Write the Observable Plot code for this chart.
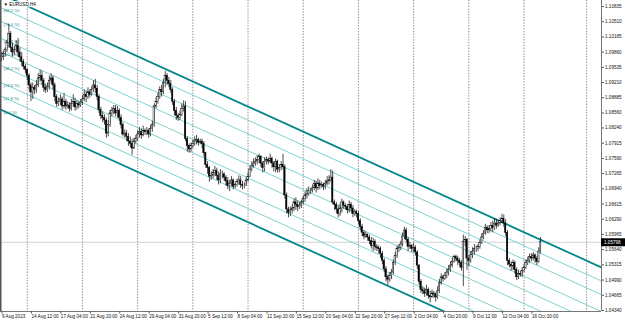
<!DOCTYPE html>
<html><head><meta charset="utf-8">
<script src="https://cdn.jsdelivr.net/npm/d3@7"></script>
<script src="https://cdn.jsdelivr.net/npm/@observablehq/plot@0.6"></script>
<style>html,body{margin:0;padding:0;background:#fff}svg{display:block}</style>
</head><body><div id="chart"></div>
<script>
// ---------- data (EURUSD H4, 9 Aug 2023 20:00 .. 17 Oct 2023 16:00), bar index 0..293 ----------
const symbol = "EURUSD,H4";
const firstOpen = 1.0972;
const closes = [
1.0975,
1.0982,1.0990,1.1005,1.1025,1.0995,1.0985,
1.0990,1.1000,1.0985,1.0975,1.0965,1.0955,
1.0948,1.0935,1.0915,1.0900,1.0910,1.0905,
1.0915,1.0930,1.0935,1.0925,1.0910,1.0905,
1.0912,1.0925,1.0930,1.0915,1.0890,1.0875,
1.0880,1.0885,1.0870,1.0880,1.0870,1.0872,
1.0865,1.0875,1.0880,1.0868,1.0875,1.0872,
1.0878,1.0885,1.0895,1.0890,1.0900,1.0895,
1.0905,1.0915,1.0908,1.0890,1.0862,1.0850,
1.0845,1.0840,1.0812,1.0830,1.0855,1.0860,
1.0865,1.0855,1.0860,1.0845,1.0830,1.0810,
1.0812,1.0805,1.0795,1.0790,1.0780,1.0795,
1.0800,1.0810,1.0815,1.0808,1.0818,1.0815,
1.0818,1.0810,1.0822,1.0830,1.0870,1.0880,
1.0890,1.0905,1.0900,1.0920,1.0935,1.0925,
1.0918,1.0905,1.0880,1.0860,1.0850,1.0845,
1.0852,1.0865,1.0870,1.0800,1.0785,1.0778,
1.0785,1.0790,1.0795,1.0798,1.0792,1.0795,
1.0790,1.0770,1.0745,1.0738,1.0720,1.0722,
1.0728,1.0732,1.0722,1.0712,1.0725,1.0725,
1.0718,1.0710,1.0700,1.0705,1.0712,1.0698,
1.0702,1.0708,1.0712,1.0702,1.0700,1.0700,
1.0712,1.0720,1.0735,1.0742,1.0748,1.0752,
1.0755,1.0762,1.0748,1.0738,1.0752,1.0755,
1.0752,1.0758,1.0748,1.0740,1.0752,1.0735,
1.0738,1.0745,1.0740,1.0680,1.0650,1.0642,
1.0648,1.0652,1.0665,1.0660,1.0655,1.0658,
1.0665,1.0672,1.0680,1.0682,1.0690,1.0690,
1.0695,1.0705,1.0695,1.0705,1.0700,1.0702,
1.0698,1.0705,1.0710,1.0712,1.0718,1.0665,
1.0660,1.0650,1.0640,1.0652,1.0665,1.0658,
1.0655,1.0648,1.0660,1.0652,1.0640,1.0645,
1.0640,1.0625,1.0612,1.0600,1.0592,1.0595,
1.0590,1.0582,1.0572,1.0580,1.0570,1.0568,
1.0565,1.0555,1.0540,1.0522,1.0505,1.0500,
1.0508,1.0515,1.0535,1.0550,1.0565,1.0568,
1.0575,1.0592,1.0605,1.0585,1.0570,1.0572,
1.0565,1.0568,1.0558,1.0530,1.0495,1.0478,
1.0475,1.0470,1.0478,1.0465,1.0462,1.0470,
1.0468,1.0462,1.0475,1.0492,1.0505,1.0502,
1.0508,1.0515,1.0520,1.0530,1.0538,1.0548,
1.0545,1.0540,1.0535,1.0525,1.0580,1.0585,
1.0545,1.0540,1.0552,1.0560,1.0565,1.0565,
1.0570,1.0578,1.0590,1.0598,1.0610,1.0605,
1.0608,1.0615,1.0610,1.0620,1.0615,1.0620,
1.0625,1.0630,1.0620,1.0600,1.0540,1.0532,
1.0528,1.0535,1.0520,1.0505,1.0512,1.0510,
1.0518,1.0525,1.0535,1.0540,1.0548,1.0545,
1.0552,1.0545,1.0538,1.0560,1.05798
];
const highs = [
1.0985,
1.0988,1.0995,1.1012,1.1045,1.1030,1.1005,
1.0998,1.1010,1.1015,1.0995,1.0985,1.0970,
1.0960,1.0950,1.0940,1.0920,1.0920,1.0915,
1.0925,1.0940,1.0948,1.0945,1.0930,1.0918,
1.0920,1.0935,1.0940,1.0935,1.0920,1.0895,
1.0888,1.0895,1.0890,1.0898,1.0885,1.0880,
1.0878,1.0885,1.0895,1.0888,1.0882,1.0880,
1.0885,1.0892,1.0905,1.0902,1.0910,1.0905,
1.0912,1.0925,1.0928,1.0915,1.0895,1.0868,
1.0858,1.0852,1.0845,1.0840,1.0862,1.0868,
1.0872,1.0872,1.0870,1.0865,1.0852,1.0835,
1.0820,1.0818,1.0812,1.0805,1.0800,1.0802,
1.0808,1.0818,1.0825,1.0822,1.0828,1.0822,
1.0825,1.0822,1.0830,1.0838,1.0875,1.0888,
1.0898,1.0912,1.0915,1.0928,1.0945,1.0940,
1.0932,1.0925,1.0910,1.0885,1.0868,1.0855,
1.0860,1.0875,1.0882,1.0880,1.0805,1.0790,
1.0792,1.0798,1.0805,1.0808,1.0802,1.0800,
1.0800,1.0795,1.0772,1.0752,1.0742,1.0730,
1.0735,1.0742,1.0738,1.0730,1.0735,1.0732,
1.0728,1.0722,1.0718,1.0712,1.0720,1.0715,
1.0708,1.0715,1.0722,1.0720,1.0710,1.0706,
1.0718,1.0728,1.0742,1.0752,1.0758,1.0760,
1.0765,1.0768,1.0765,1.0752,1.0760,1.0762,
1.0760,1.0768,1.0762,1.0752,1.0758,1.0755,
1.0745,1.0752,1.0768,1.0745,1.0685,1.0655,
1.0655,1.0660,1.0672,1.0675,1.0668,1.0665,
1.0670,1.0678,1.0688,1.0695,1.0698,1.0695,
1.0702,1.0712,1.0710,1.0715,1.0712,1.0708,
1.0706,1.0712,1.0720,1.0722,1.0735,1.0732,
1.0670,1.0665,1.0658,1.0662,1.0672,1.0668,
1.0662,1.0660,1.0668,1.0665,1.0658,1.0650,
1.0648,1.0645,1.0630,1.0618,1.0605,1.0602,
1.0598,1.0595,1.0590,1.0588,1.0585,1.0575,
1.0572,1.0570,1.0560,1.0545,1.0528,1.0510,
1.0515,1.0522,1.0542,1.0558,1.0572,1.0575,
1.0582,1.0600,1.0612,1.0610,1.0590,1.0580,
1.0575,1.0578,1.0572,1.0562,1.0532,1.0500,
1.0485,1.0482,1.0488,1.0482,1.0475,1.0478,
1.0475,1.0472,1.0485,1.0500,1.0512,1.0510,
1.0515,1.0522,1.0530,1.0538,1.0545,1.0552,
1.0552,1.0550,1.0545,1.0540,1.0595,1.0592,
1.0588,1.0552,1.0560,1.0568,1.0575,1.0572,
1.0575,1.0585,1.0598,1.0605,1.0618,1.0615,
1.0615,1.0622,1.0625,1.0630,1.0628,1.0626,
1.0632,1.0640,1.0638,1.0628,1.0605,1.0545,
1.0538,1.0542,1.0540,1.0525,1.0520,1.0518,
1.0525,1.0532,1.0542,1.0548,1.0555,1.0555,
1.0558,1.0555,1.0550,1.0568,1.0590
];
const lows = [
1.0965,
1.0968,1.0975,1.0985,1.0995,1.0985,1.0975,
1.0978,1.0985,1.0975,1.0965,1.0955,1.0948,
1.0940,1.0925,1.0905,1.0880,1.0885,1.0895,
1.0898,1.0910,1.0922,1.0915,1.0900,1.0898,
1.0900,1.0905,1.0918,1.0905,1.0880,1.0868,
1.0870,1.0872,1.0862,1.0865,1.0862,1.0865,
1.0858,1.0860,1.0868,1.0860,1.0862,1.0865,
1.0868,1.0872,1.0880,1.0878,1.0885,1.0888,
1.0892,1.0900,1.0898,1.0882,1.0855,1.0842,
1.0835,1.0830,1.0802,1.0805,1.0825,1.0848,
1.0852,1.0848,1.0845,1.0838,1.0822,1.0805,
1.0802,1.0795,1.0785,1.0782,1.0766,1.0778,
1.0790,1.0795,1.0802,1.0800,1.0805,1.0808,
1.0808,1.0802,1.0805,1.0815,1.0825,1.0865,
1.0875,1.0885,1.0890,1.0895,1.0910,1.0915,
1.0910,1.0898,1.0872,1.0850,1.0840,1.0838,
1.0840,1.0848,1.0858,1.0795,1.0772,1.0770,
1.0772,1.0780,1.0785,1.0788,1.0785,1.0788,
1.0780,1.0762,1.0738,1.0725,1.0708,1.0712,
1.0715,1.0720,1.0712,1.0702,1.0705,1.0715,
1.0710,1.0700,1.0692,1.0688,1.0698,1.0692,
1.0694,1.0698,1.0702,1.0695,1.0692,1.0694,
1.0700,1.0708,1.0718,1.0730,1.0738,1.0742,
1.0745,1.0748,1.0740,1.0728,1.0730,1.0745,
1.0745,1.0748,1.0738,1.0730,1.0728,1.0728,
1.0728,1.0732,1.0735,1.0672,1.0640,1.0632,
1.0635,1.0640,1.0645,1.0648,1.0645,1.0650,
1.0652,1.0660,1.0665,1.0672,1.0678,1.0682,
1.0685,1.0690,1.0685,1.0690,1.0692,1.0695,
1.0690,1.0692,1.0700,1.0702,1.0708,1.0660,
1.0648,1.0640,1.0632,1.0635,1.0642,1.0650,
1.0648,1.0640,1.0642,1.0645,1.0632,1.0635,
1.0632,1.0618,1.0605,1.0592,1.0585,1.0588,
1.0582,1.0575,1.0565,1.0560,1.0562,1.0560,
1.0555,1.0545,1.0532,1.0515,1.0495,1.0488,
1.0495,1.0500,1.0510,1.0530,1.0545,1.0558,
1.0562,1.0570,1.0585,1.0578,1.0560,1.0565,
1.0558,1.0558,1.0550,1.0522,1.0488,1.0470,
1.0468,1.0462,1.0465,1.0458,1.0450,1.0460,
1.0460,1.0452,1.0458,1.0470,1.0488,1.0495,
1.0498,1.0502,1.0508,1.0515,1.0525,1.0535,
1.0538,1.0530,1.0525,1.0518,1.0485,1.0570,
1.0520,1.0528,1.0535,1.0545,1.0552,1.0558,
1.0560,1.0565,1.0575,1.0585,1.0595,1.0598,
1.0598,1.0602,1.0600,1.0605,1.0608,1.0612,
1.0615,1.0620,1.0612,1.0592,1.0530,1.0525,
1.0518,1.0520,1.0512,1.0498,1.0500,1.0505,
1.0505,1.0515,1.0522,1.0530,1.0535,1.0538,
1.0540,1.0535,1.0530,1.0535,1.0555
];
const dateLabels = ["9 Aug 2023","14 Aug 12:00","17 Aug 04:00","21 Aug 20:00","24 Aug 12:00","29 Aug 04:00","31 Aug 20:00","5 Sep 12:00","8 Sep 04:00","12 Sep 20:00","15 Sep 12:00","20 Sep 04:00","22 Sep 20:00","27 Sep 12:00","2 Oct 04:00","4 Oct 20:00","9 Oct 12:00","12 Oct 04:00","16 Oct 20:00"];
const dateLabelBars = [0,16,32,48,64,80,96,112,128,144,160,176,192,208,224,240,256,272,288];
const priceLabels = [1.10835,1.10510,1.10185,1.09860,1.09535,1.09210,1.08885,1.08560,1.08240,1.07915,1.07590,1.07265,1.06940,1.06615,1.06290,1.05965,1.05640,1.05315,1.04990,1.04665,1.04340];
const gridBars = [14,44,74,104,134,164,194,224,254,284,318];
const currentPrice = 1.05798;
// Fibonacci channel: top edge anchors (bar, price) and channel height
const channelBars = [0, 300];
const channelTop = [1.11094, 1.05727];
const channelWidth = 0.0247;
const fiboLevels = [0, 0.118, 0.236, 0.382, 0.5, 0.618, 0.764, 0.882, 1];
const fiboLabels = ["(0.0 %)","(11.8 %)","(23.6 %)","(38.2 %)","(50.0 %)","(61.8 %)","(76.4 %)","(88.2 %)","(100.0 %)"];

// ---------- build ----------
const xDomain = [-0.54, 326.1];
const yDomain = [1.04319, 1.10963];
const bars = closes.map((c, i) => ({i, open: i === 0 ? firstOpen : closes[i - 1], high: highs[i], low: lows[i], close: c}));
const topAt = b => channelTop[0] + (channelTop[1] - channelTop[0]) * (b - channelBars[0]) / (channelBars[1] - channelBars[0]);
const levelAt = (f, b) => topAt(b) - channelWidth + f * channelWidth;
const levels = fiboLevels.map((f, k) => ({f, label: fiboLabels[k], thick: f === 0 || f === 1}));
const labelOf = new Map(dateLabelBars.map((b, k) => [b, dateLabels[k]]));
const thickC = "#00868b", thinC = "#52c4c4";
const font = 4.6;

const chart = Plot.plot({
  width: 625, height: 323,
  marginTop: 0, marginBottom: 12, marginLeft: 0, marginRight: 24,
  style: {fontFamily: "'Liberation Sans', Arial, sans-serif", background: "#fff", overflow: "visible"},
  x: {domain: xDomain},
  y: {domain: yDomain},
  marks: [
    Plot.ruleX(gridBars, {stroke: "#5e5e5e", strokeWidth: 0.7, strokeDasharray: "1.4,1.4"}),
    Plot.ruleY([currentPrice], {stroke: "#c8c8c8", strokeWidth: 0.8}),
    Plot.link(levels.filter(d => !d.thick), {
      x1: () => xDomain[0], x2: () => xDomain[1],
      y1: d => levelAt(d.f, xDomain[0]), y2: d => levelAt(d.f, xDomain[1]),
      stroke: thinC, strokeWidth: 0.75, clip: true}),
    Plot.link(levels.filter(d => d.thick), {
      x1: () => xDomain[0], x2: () => xDomain[1],
      y1: d => levelAt(d.f, xDomain[0]), y2: d => levelAt(d.f, xDomain[1]),
      stroke: thickC, strokeWidth: 1.8, clip: true}),
    Plot.text(levels.filter(d => levelAt(d.f, xDomain[0]) < yDomain[1] - 0.0005), {
      x: () => xDomain[0], y: d => levelAt(d.f, xDomain[0]), text: "label",
      textAnchor: "start", lineAnchor: "top", dx: 3, dy: 1.5, fontSize: 4.2, fill: "#2a8585"}),
    Plot.ruleX(bars, {x: "i", y1: d => Math.min(d.low, d.open, d.close), y2: d => Math.max(d.high, d.open, d.close), stroke: "#000", strokeWidth: 0.7}),
    Plot.rect(bars, {x1: d => d.i - 0.36, x2: d => d.i + 0.36, y1: "open", y2: "close",
      fill: d => d.close >= d.open ? "#ffffff" : "#000000", stroke: "#000", strokeWidth: 0.45}),
    Plot.ruleX([xDomain[1]], {stroke: "#555", strokeWidth: 0.8}),
    Plot.ruleX([xDomain[0]], {stroke: "#555", strokeWidth: 2}),
    Plot.ruleY([yDomain[0]], {stroke: "#555", strokeWidth: 0.8}),
    Plot.axisY(priceLabels, {anchor: "right", tickSize: 2, tickPadding: 1.5, tickFormat: d => d.toFixed(5),
      fontSize: font, stroke: "#555", fill: "#111", label: null}),
    Plot.ruleY([currentPrice], {x1: xDomain[1], x2: xDomain[1] + 13.2, stroke: "#000", strokeWidth: 8}),
    Plot.text([currentPrice], {x: xDomain[1], y: d => d, text: d => d.toFixed(5), textAnchor: "start", dx: 2.5,
      fill: "#fff", fontSize: font}),
    Plot.axisX(dateLabelBars, {anchor: "bottom", tickSize: 2.5, tickPadding: 0.5, tickFormat: d => labelOf.get(d),
      textAnchor: "start", dx: 0.5, fontSize: font, stroke: "#555", fill: "#111", label: null}),
    Plot.text([symbol], {frameAnchor: "top-left", dx: 3, dy: 2.5, text: d => "\u25BC " + d, textAnchor: "start",
      lineAnchor: "top", fontSize: font, fill: "#000", stroke: "#fff", strokeWidth: 1.5})
  ]
});
document.getElementById("chart").appendChild(chart);
</script>
</body></html>
